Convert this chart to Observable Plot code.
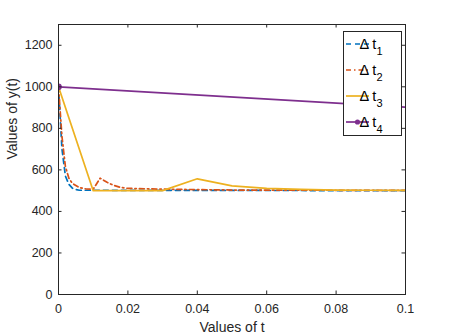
<!DOCTYPE html>
<html><head><meta charset="utf-8">
<script src="https://cdn.jsdelivr.net/npm/d3@7"></script>
<script src="https://cdn.jsdelivr.net/npm/@observablehq/plot@0.6"></script>
<style>
html,body{margin:0;padding:0;background:#fff;}
#chart{width:449px;height:336px;}
</style></head><body><div id="chart"></div>
<script>
// ---- data ----
const xTicks = [0, 0.02, 0.04, 0.06, 0.08, 0.1];
const xTickLabels = ["0", "0.02", "0.04", "0.06", "0.08", "0.1"];
const yTicks = [0, 200, 400, 600, 800, 1000, 1200];
const yTickLabels = ["0", "200", "400", "600", "800", "1000", "1200"];
const seriesNames = ["1", "2", "3", "4"]; // subscripts of "Δ t"
const seriesColors = ["#0072BD", "#D95319", "#EDB120", "#7E2F8E"];

const t1 = [0, 0.001, 0.002, 0.003, 0.004, 0.005, 0.006, 0.1];
const y1 = [1000, 700, 570, 530, 512, 505, 502, 500];

const t2 = [0, 0.001, 0.002, 0.003, 0.004, 0.006, 0.008, 0.010, 0.012, 0.014, 0.016, 0.018, 0.020, 0.030, 0.040, 0.050, 0.1];
const y2 = [1000, 760, 615, 560, 535, 515, 508, 507, 560, 540, 525, 515, 511, 507, 505, 503, 501];

const t3 = [0, 0.01, 0.02, 0.03, 0.04, 0.05, 0.06, 0.07, 0.08, 0.09, 0.1];
const y3 = [1000, 500, 500, 500, 557, 523, 511, 506, 503, 502, 501];

const t4 = [0, 0.2];
const y4 = [1000, 804];

const toRows = (ts, ys) => ts.map((t, i) => ({t, y: ys[i]}));
const r1 = toRows(t1, y1), r2 = toRows(t2, y2), r3 = toRows(t3, y3), r4 = toRows(t4, y4);

// ---- layout ----
const W = 449, H = 336, mL = 58, mR = 44, mT = 24, mB = 42;
const xDom = [0, 0.1], yDom = [0, 1300];
const tl = 3.5; // tick length px
const tlx = (xDom[1] - xDom[0]) * tl / (W - mL - mR);
const tly = (yDom[1] - yDom[0]) * tl / (H - mT - mB);
const axisColor = "#262626";
const dashes = ["5,4", "5,3,1.5,3", null, null];
const lw = 1.7;
const font = "Helvetica, 'Liberation Sans', Arial, sans-serif";

const chart = Plot.plot({
  width: W, height: H,
  marginLeft: mL, marginRight: mR, marginTop: mT, marginBottom: mB,
  style: {fontFamily: font, fontSize: "12.5px", color: axisColor, background: "#fff"},
  x: {domain: xDom},
  y: {domain: yDom},
  marks: [
    Plot.line(r1, {x: "t", y: "y", stroke: seriesColors[0], strokeWidth: lw, strokeDasharray: dashes[0], clip: true}),
    Plot.line(r2, {x: "t", y: "y", stroke: seriesColors[1], strokeWidth: lw, strokeDasharray: dashes[1], clip: true}),
    Plot.line(r3, {x: "t", y: "y", stroke: seriesColors[2], strokeWidth: lw, clip: true}),
    Plot.line(r4, {x: "t", y: "y", stroke: seriesColors[3], strokeWidth: lw, clip: true}),
    Plot.dot(r4, {x: "t", y: "y", r: 2.6, fill: seriesColors[3], stroke: seriesColors[3], clip: true}),
    Plot.ruleX(xTicks, {x: d => d, y1: yDom[0], y2: yDom[0] + tly, stroke: axisColor}),
    Plot.ruleX(xTicks, {x: d => d, y1: yDom[1] - tly, y2: yDom[1], stroke: axisColor}),
    Plot.ruleY(yTicks, {y: d => d, x1: xDom[0], x2: xDom[0] + tlx, stroke: axisColor}),
    Plot.ruleY(yTicks, {y: d => d, x1: xDom[1] - tlx, x2: xDom[1], stroke: axisColor}),
    Plot.frame({stroke: axisColor, strokeWidth: 1}),
    Plot.axisX(xTicks, {tickSize: 0, tickPadding: 10, tickFormat: (d, i) => xTickLabels[i], label: null}),
    Plot.axisY(yTicks, {tickSize: 0, tickPadding: 6, tickFormat: (d, i) => yTickLabels[i], label: null}),
    Plot.text(["Values of t"], {frameAnchor: "bottom", dy: 37, text: d => d, fontSize: 14, fill: axisColor}),
    Plot.text(["Values of y(t)"], {frameAnchor: "left", dx: -46, rotate: -90, text: d => d, fontSize: 14, fill: axisColor})
  ]
});
document.getElementById("chart").appendChild(chart);

// ---- legend (inside axes, north-east) ----
const svg = d3.select(chart);
const lg = svg.append("g").attr("font-family", font);
const lx = 343, ly = 31, lwid = 58, lh = 104, step = 26, firstY = 44;
lg.append("rect").attr("x", lx + 0.5).attr("y", ly + 0.5).attr("width", lwid).attr("height", lh)
  .attr("fill", "#fff").attr("stroke", axisColor).attr("stroke-width", 1);
seriesNames.forEach((s, i) => {
  const yy = firstY + i * step;
  const ln = lg.append("line").attr("x1", 346).attr("x2", 369).attr("y1", yy).attr("y2", yy)
    .attr("stroke", seriesColors[i]).attr("stroke-width", lw);
  if (dashes[i]) ln.attr("stroke-dasharray", dashes[i]);
  if (i === 3) lg.append("circle").attr("cx", 357.5).attr("cy", yy).attr("r", 2.6).attr("fill", seriesColors[i]);
  const tx = lg.append("text").attr("x", 371).attr("y", yy + 5).attr("font-size", 14.5).attr("fill", "#000")
    .attr("xml:space", "preserve");
  tx.append("tspan").text("Δ t");
  tx.append("tspan").attr("font-size", 11).attr("dy", 6).text(s);
});
</script>
</body></html>
